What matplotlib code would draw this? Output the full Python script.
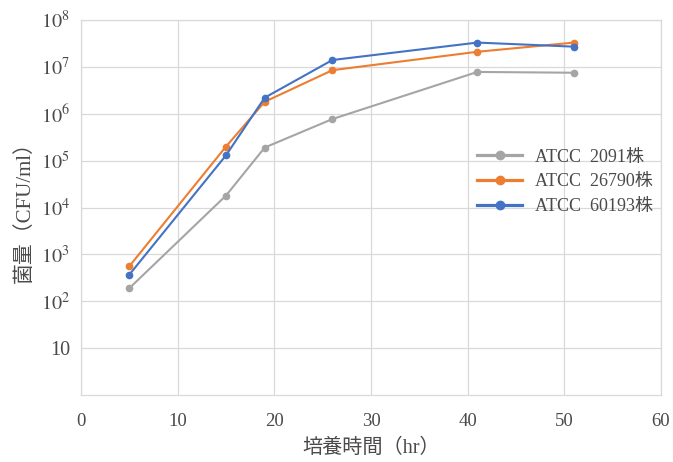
import numpy as np
import matplotlib.pyplot as plt

plt.rcParams['font.family'] = ['Liberation Serif', 'Noto Sans CJK JP']
plt.rcParams['mathtext.fontset'] = 'stix'

# culture time (hr)
hours = [5, 15, 19, 26, 41, 51]

# bacterial counts (CFU/ml)
atcc_2091 = [190, 1.8e4, 1.9e5, 7.7e5, 7.8e6, 7.5e6]
atcc_26790 = [560, 2.0e5, 1.8e6, 8.5e6, 2.1e7, 3.3e7]
atcc_60193 = [370, 1.3e5, 2.2e6, 1.4e7, 3.3e7, 2.7e7]

labels = ["ATCC  2091株", "ATCC  26790株", "ATCC  60193株"]
colors = ["#A5A5A5", "#ED7D31", "#4472C4"]

yticks = [10, 1e2, 1e3, 1e4, 1e5, 1e6, 1e7, 1e8]
ytick_labels = ["10"] + [f"$10^{{{i}}}$" for i in range(2, 9)]
xticks = [0, 10, 20, 30, 40, 50, 60]

fig = plt.figure(figsize=(6.73, 4.62), dpi=100)
ax = fig.add_axes([0.1204, 0.145, 0.8618, 0.8117])

for vals, lab, c in zip([atcc_2091, atcc_26790, atcc_60193], labels, colors):
    ax.plot(hours, vals, color=c, lw=1.5, marker="o", ms=4.5, label=lab)

ax.set_yscale("log")
ax.set_ylim(1, 1e8)
ax.set_xlim(0, 60)
ax.set_yticks(yticks)
ax.set_yticklabels(ytick_labels)
ax.minorticks_off()
ax.set_xticks(xticks)

grid_c = "#d9d9d9"
ax.grid(True, color=grid_c, lw=0.9)
ax.set_axisbelow(True)
for s in ax.spines.values():
    s.set_color(grid_c)
    s.set_linewidth(0.9)
ax.tick_params(axis="both", length=0, colors="#4a4a4a")
ax.tick_params(axis="x", pad=13, labelsize=13.5)
ax.tick_params(axis="y", pad=8, labelsize=14.5)

ax.set_xlabel("培養時間（hr）", fontsize=14.5, color="#4a4a4a", labelpad=6)
ax.set_ylabel("菌量（CFU/ml）", fontsize=15, color="#4a4a4a", labelpad=4)

leg = ax.legend(loc="upper left", bbox_to_anchor=(0.655, 0.70), frameon=False,
                fontsize=13, handlelength=2.5, labelspacing=0.42, handletextpad=0.7)
for t in leg.get_texts():
    t.set_color("#4a4a4a")
for h in leg.get_lines():
    h.set_linewidth(2.3)
    h.set_markersize(6)

plt.savefig("out.png", dpi=100)
plt.close()
